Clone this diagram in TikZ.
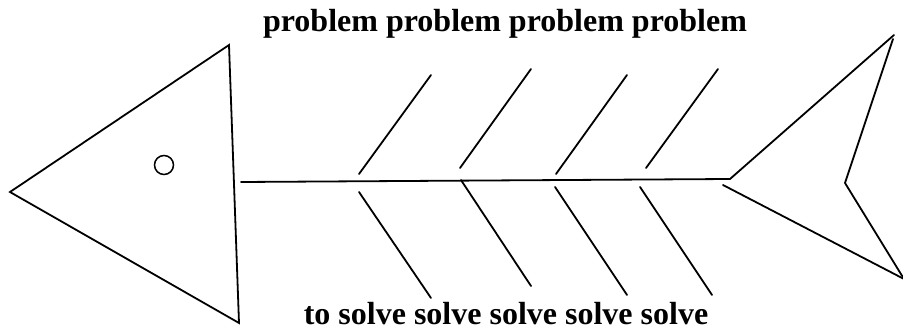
\documentclass[tikz,border=0pt]{standalone}
\usepackage{fontspec}
\setmainfont{Liberation Serif}
\begin{document}
\begin{tikzpicture}[x=1pt,y=-1pt,
  bone/.style={line width=1.8pt,line cap=round,line join=miter},
  lbl/.style={font=\fontsize{32}{36}\selectfont\bfseries,inner sep=0pt,anchor=base}]
\useasboundingbox (0,0) rectangle (903,331);
% head
\coordinate (hl) at (10,192);
\coordinate (ht) at (229,45);
\coordinate (hb) at (239,323);
\draw[bone] (hl) -- (ht) -- (hb) -- cycle;
\node[draw,circle,line width=1.5pt,minimum size=19pt,inner sep=0pt] (eye) at (164,165) {};
% spine
\coordinate (s0) at (241,182);
\coordinate (s1) at (730,179);
\draw[bone] (s0) -- (s1);
% upper bones
\coordinate (u1a) at (359,174); \coordinate (u1b) at (431,75);
\coordinate (u2a) at (460,168); \coordinate (u2b) at (531,69);
\coordinate (u3a) at (556,174); \coordinate (u3b) at (627,75);
\coordinate (u4a) at (646,168); \coordinate (u4b) at (718,69);
\foreach \i in {1,...,4} \draw[bone] (u\i a) -- (u\i b);
% lower bones
\coordinate (l1a) at (359,192); \coordinate (l1b) at (431,298);
\coordinate (l2a) at (461,180); \coordinate (l2b) at (531,286);
\coordinate (l3a) at (555,187); \coordinate (l3b) at (627,295);
\coordinate (l4a) at (640,187); \coordinate (l4b) at (712,295);
\foreach \i in {1,...,4} \draw[bone] (l\i a) -- (l\i b);
% tail
\coordinate (ta) at (894,35);
\coordinate (tn) at (845,183);
\coordinate (tr) at (904,279);
\coordinate (tl) at (723,185);
\draw[bone] (s1) -- (ta);
\draw[bone] (893,39) -- (tn) -- (tr);
\draw[bone] (tl) -- (tr);
% labels
\node[lbl] (top) at (505,32) {problem problem problem problem};
\node[lbl] (bot) at (506,324) {to solve solve solve solve solve};
\end{tikzpicture}
\end{document}
